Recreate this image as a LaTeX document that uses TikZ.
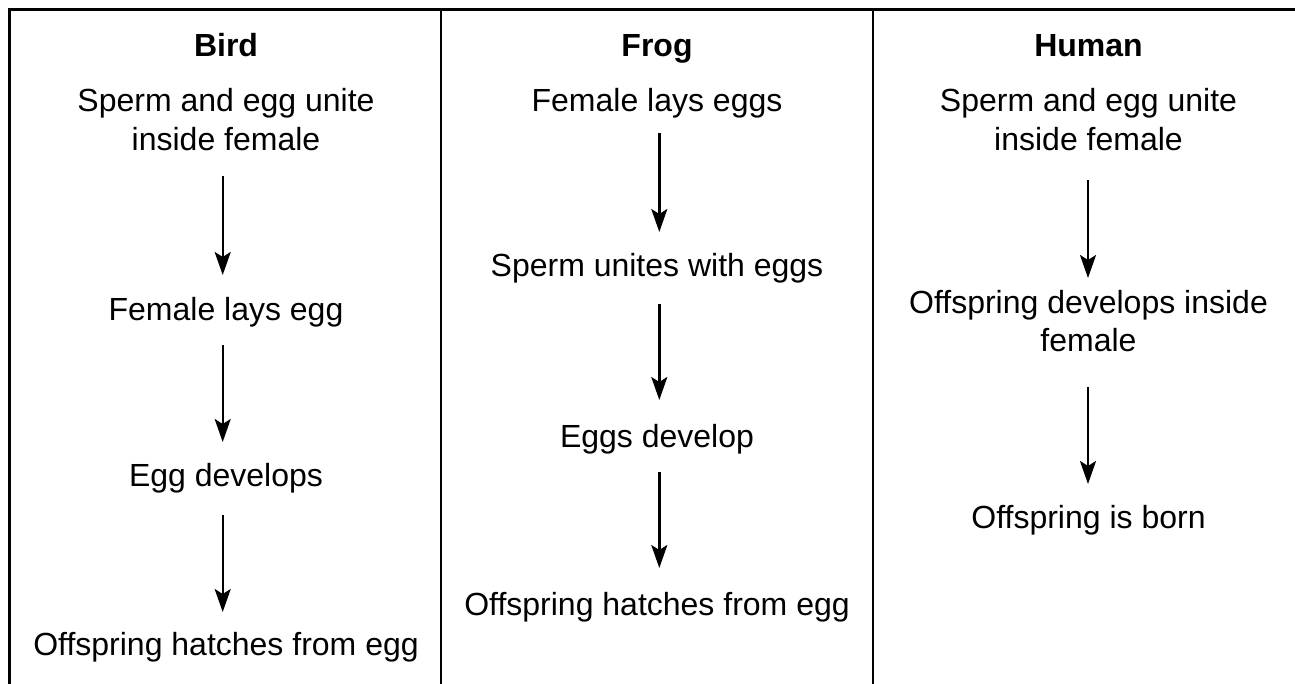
\documentclass[tikz,border=0pt]{standalone}
\usepackage{fontspec}
\setmainfont{Liberation Sans}
\usetikzlibrary{arrows.meta}
\tikzset{
  frame/.style={line width=2.4pt, line cap=rect},
  txt/.style={anchor=base, align=center, inner sep=0pt, font=\fontsize{32}{38.5}\selectfont},
  ttl/.style={anchor=base, inner sep=0pt, font=\fontsize{32}{38.5}\selectfont\bfseries},
  arr/.style={line width=2.4pt, -{Stealth[length=23pt,width=16pt,inset=5pt]}}
}
\begin{document}
\begin{tikzpicture}[x=1pt,y=-1pt]
\useasboundingbox (0,0) rectangle (1295,683);
% frame
\draw[frame] (9.5,690) -- (9.5,9.5) -- (1300,9.5);
\draw[frame] (441,9.5) -- (441,690);
\draw[frame] (873,9.5) -- (873,690);
% Bird
\node[ttl] (bt) at (226,56) {Bird};
\node[txt] (b1) at (226,150) {Sperm and egg unite\\inside female};
\node[txt] (b2) at (226,320) {Female lays egg};
\node[txt] (b3) at (226,486) {Egg develops};
\node[txt] (b4) at (226,655.5) {Offspring hatches from egg};
\coordinate (b1s) at (222.7,176); \coordinate (b2n) at (222.7,275);
\coordinate (b2s) at (222.7,345); \coordinate (b3n) at (222.7,442);
\coordinate (b3s) at (222.7,515); \coordinate (b4n) at (222.7,612);
\draw[arr] (b1s) -- (b2n);
\draw[arr] (b2s) -- (b3n);
\draw[arr] (b3s) -- (b4n);
% Frog
\node[ttl] (ft) at (657,56) {Frog};
\node[txt] (f1) at (657,111.7) {Female lays eggs};
\node[txt] (f2) at (657,276.7) {Sperm unites with eggs};
\node[txt] (f3) at (657,447.5) {Eggs develop};
\node[txt] (f4) at (657,615.5) {Offspring hatches from egg};
\coordinate (f1s) at (659.3,133); \coordinate (f2n) at (659.3,232);
\coordinate (f2s) at (659.3,304); \coordinate (f3n) at (659.3,400);
\coordinate (f3s) at (659.3,472); \coordinate (f4n) at (659.3,568);
\draw[arr] (f1s) -- (f2n);
\draw[arr] (f2s) -- (f3n);
\draw[arr] (f3s) -- (f4n);
% Human
\node[ttl] (ht) at (1088.5,56) {Human};
\node[txt] (h1) at (1088.5,150) {Sperm and egg unite\\inside female};
\node[txt] (h2) at (1088.5,351.7) {Offspring develops inside\\female};
\node[txt] (h3) at (1088.5,528.5) {Offspring is born};
\coordinate (h1s) at (1088,180); \coordinate (h2n) at (1088,278);
\coordinate (h2s) at (1088,387); \coordinate (h3n) at (1088,484);
\draw[arr] (h1s) -- (h2n);
\draw[arr] (h2s) -- (h3n);
\end{tikzpicture}
\end{document}
